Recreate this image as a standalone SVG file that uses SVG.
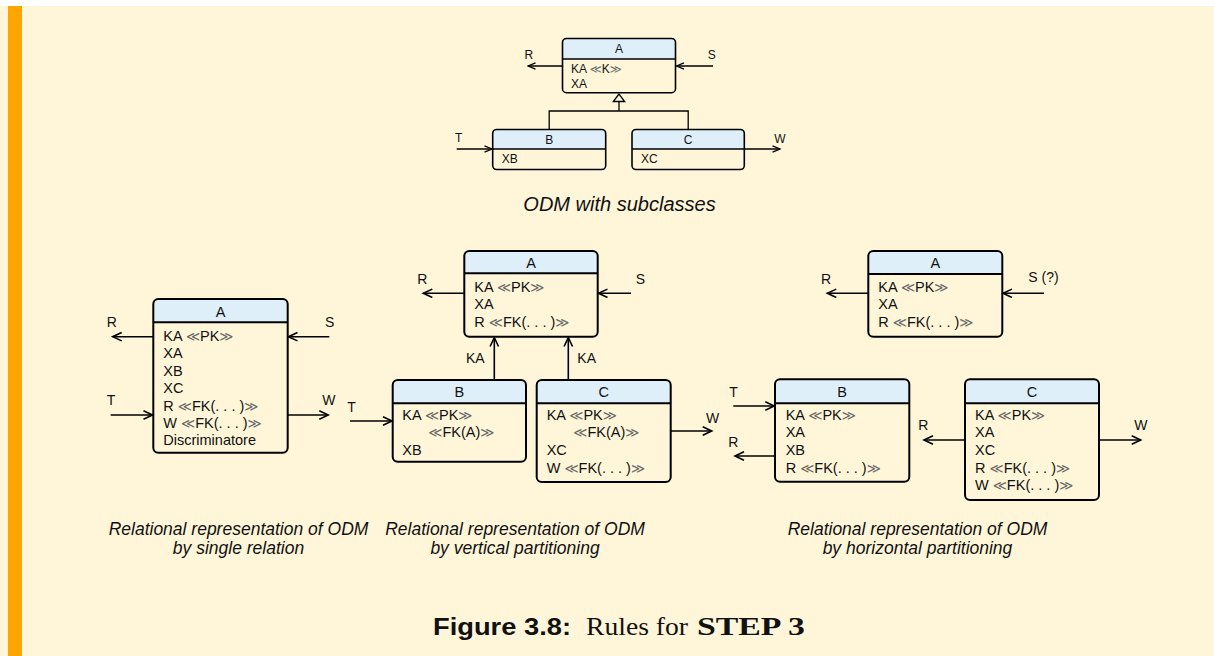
<svg xmlns="http://www.w3.org/2000/svg" width="1214" height="656" viewBox="0 0 1214 656">
<defs>
<style>
.t{font-family:"Liberation Sans",Arial,sans-serif;font-size:14.5px;fill:#111}
.ts{font-family:"Liberation Sans",Arial,sans-serif;font-size:12px;fill:#111}
.lb{font-family:"Liberation Sans",Arial,sans-serif;font-size:14px;fill:#111}
.c{text-anchor:middle}
.ll{font-family:"DejaVu Sans",sans-serif;fill:#666}
.box{fill:none;stroke:#000;stroke-width:2}
.boxs{fill:none;stroke:#000;stroke-width:1.6}
.hdr{fill:#DFEFFA}
.div{stroke:#000;stroke-width:2}
.divs{stroke:#000;stroke-width:1.5}
.ar{fill:none;stroke:#000;stroke-width:1.6;marker-end:url(#ah)}
.ars{fill:none;stroke:#000;stroke-width:1.3;marker-end:url(#ahs)}
.ln{fill:none;stroke:#000;stroke-width:1.3}
.cap{font-family:"Liberation Sans",Arial,sans-serif;font-style:italic;font-size:17.5px;fill:#111;text-anchor:middle}
.capl{font-family:"Liberation Sans",Arial,sans-serif;font-style:italic;font-size:20px;fill:#111;text-anchor:middle}
</style>
<marker id="ah" markerUnits="userSpaceOnUse" markerWidth="12" markerHeight="12" viewBox="0 0 12 12" refX="10" refY="5" orient="auto">
<path d="M1,0.8 L10,5 L1,9.2" fill="none" stroke="#000" stroke-width="1.6"/>
</marker>
<marker id="ahs" markerUnits="userSpaceOnUse" markerWidth="10" markerHeight="10" viewBox="0 0 10 10" refX="8.5" refY="4" orient="auto">
<path d="M1,0.8 L8.5,4 L1,7.2" fill="none" stroke="#000" stroke-width="1.3"/>
</marker>
</defs>
<rect x="0" y="0" width="1214" height="656" fill="#fff"/>
<rect x="0" y="6" width="1214" height="650" fill="#FFF6D9"/>
<rect x="8" y="6" width="14" height="650" fill="#FFA500"/>

<g id="connectors">
<!-- top -->
<line class="ars" x1="562.5" y1="66" x2="528" y2="66"/>
<line class="ars" x1="713" y1="66" x2="676.5" y2="66"/>
<line class="ars" x1="456.7" y1="149" x2="492" y2="149"/>
<line class="ars" x1="744.3" y1="149" x2="780" y2="149"/>
<polygon points="619,94 613.3,101.5 624.7,101.5" fill="#FFF6D9" stroke="#000" stroke-width="1.3"/>
<polyline class="ln" points="619,101.5 619,111"/>
<polyline class="ln" points="549.2,129.5 549.2,111 688.2,111 688.2,129.5"/>
<!-- left -->
<line class="ar" x1="153.3" y1="336.7" x2="112.7" y2="336.7"/>
<line class="ar" x1="329.3" y1="336.7" x2="288.5" y2="336.7"/>
<line class="ar" x1="110.7" y1="415" x2="152.5" y2="415"/>
<line class="ar" x1="287.7" y1="415" x2="328.3" y2="415"/>
<!-- middle -->
<line class="ar" x1="464.3" y1="293.3" x2="423.3" y2="293.3"/>
<line class="ar" x1="631" y1="293.3" x2="598.5" y2="293.3"/>
<line class="ar" x1="494.3" y1="380" x2="494.3" y2="337.5"/>
<line class="ar" x1="568.3" y1="380" x2="568.3" y2="337.5"/>
<line class="ar" x1="350" y1="421" x2="392" y2="421"/>
<line class="ar" x1="670.7" y1="431" x2="711.7" y2="431"/>
<!-- right -->
<line class="ar" x1="868.3" y1="293.3" x2="827.3" y2="293.3"/>
<line class="ar" x1="1044" y1="293.3" x2="1003" y2="293.3"/>
<line class="ar" x1="733.3" y1="406" x2="774.3" y2="406"/>
<line class="ar" x1="775" y1="456" x2="735" y2="456"/>
<line class="ar" x1="965" y1="440" x2="924" y2="440"/>
<line class="ar" x1="1099" y1="440" x2="1140.7" y2="440"/>
</g>

<g id="connector-labels">
<text class="ts" x="524.5" y="58.5">R</text>
<text class="ts" x="707.7" y="58.5">S</text>
<text class="ts" x="455" y="141.5">T</text>
<text class="ts" x="774.3" y="142.5">W</text>
<text class="lb" x="106.7" y="327">R</text>
<text class="lb" x="325" y="327">S</text>
<text class="lb" x="106.7" y="405">T</text>
<text class="lb" x="322.3" y="405">W</text>
<text class="lb" x="417.3" y="284.3">R</text>
<text class="lb" x="635.7" y="284.3">S</text>
<text class="lb" x="466" y="362.7">KA</text>
<text class="lb" x="577.3" y="362.7">KA</text>
<text class="lb" x="347.3" y="411.7">T</text>
<text class="lb" x="706" y="422.7">W</text>
<text class="lb" x="821" y="284.3">R</text>
<text class="lb" x="1028.3" y="281.7">S (?)</text>
<text class="lb" x="729.3" y="396.7">T</text>
<text class="lb" x="728.3" y="446.7">R</text>
<text class="lb" x="918.3" y="430">R</text>
<text class="lb" x="1134.3" y="430">W</text>
</g>

<!-- top diagram nodes -->
<g id="top-A">
<path class="hdr" d="M562.5,59 V42.5 Q562.5,38.5 566.5,38.5 H671.5 Q675.5,38.5 675.5,42.5 V59 Z"/>
<rect class="boxs" x="562.5" y="38.5" width="113" height="54.2" rx="4"/>
<line class="divs" x1="562.5" y1="59" x2="675.5" y2="59"/>
<text class="ts c" x="619" y="52.5">A</text>
<text class="ts" x="571" y="72.5">KA <tspan class="ll" font-size="11.5">≪</tspan>K<tspan class="ll" font-size="11.5">≫</tspan></text>
<text class="ts" x="571" y="87.5">XA</text>
</g>
<g id="top-B">
<path class="hdr" d="M492.7,149 V133.5 Q492.7,129.5 496.7,129.5 H601.7 Q605.7,129.5 605.7,133.5 V149 Z"/>
<rect class="boxs" x="492.7" y="129.5" width="113" height="40" rx="4"/>
<line class="divs" x1="492.7" y1="149" x2="605.7" y2="149"/>
<text class="ts c" x="549.2" y="143.5">B</text>
<text class="ts" x="501.7" y="163">XB</text>
</g>
<g id="top-C">
<path class="hdr" d="M632,149 V133.5 Q632,129.5 636,129.5 H740.3 Q744.3,129.5 744.3,133.5 V149 Z"/>
<rect class="boxs" x="632" y="129.5" width="112.3" height="40" rx="4"/>
<line class="divs" x1="632" y1="149" x2="744.3" y2="149"/>
<text class="ts c" x="688.2" y="143.5">C</text>
<text class="ts" x="641" y="163">XC</text>
</g>

<!-- left: single relation -->
<g id="single-A">
<path class="hdr" d="M153.3,322.3 V304 Q153.3,299 158.3,299 H282.7 Q287.7,299 287.7,304 V322.3 Z"/>
<rect class="box" x="153.3" y="299" width="134.4" height="153.7" rx="5"/>
<line class="div" x1="153.3" y1="322.3" x2="287.7" y2="322.3"/>
<text class="t c" x="220.5" y="316.7">A</text>
<text class="t" x="163.3" y="341">KA <tspan class="ll" font-size="13.5">≪</tspan>PK<tspan class="ll" font-size="13.5">≫</tspan></text>
<text class="t" x="163.3" y="358.4">XA</text>
<text class="t" x="163.3" y="375.8">XB</text>
<text class="t" x="163.3" y="393.2">XC</text>
<text class="t" x="163.3" y="410.6">R <tspan class="ll" font-size="13.5">≪</tspan>FK(. . . )<tspan class="ll" font-size="13.5">≫</tspan></text>
<text class="t" x="163.3" y="428">W <tspan class="ll" font-size="13.5">≪</tspan>FK(. . . )<tspan class="ll" font-size="13.5">≫</tspan></text>
<text class="t" x="163.3" y="445.4">Discriminatore</text>
</g>

<!-- middle: vertical partitioning -->
<g id="vert-A">
<path class="hdr" d="M464.3,273.3 V256 Q464.3,251 469.3,251 H592.7 Q597.7,251 597.7,256 V273.3 Z"/>
<rect class="box" x="464.3" y="251" width="133.4" height="85.7" rx="5"/>
<line class="div" x1="464.3" y1="273.3" x2="597.7" y2="273.3"/>
<text class="t c" x="531" y="267.7">A</text>
<text class="t" x="474.3" y="291.7">KA <tspan class="ll" font-size="13.5">≪</tspan>PK<tspan class="ll" font-size="13.5">≫</tspan></text>
<text class="t" x="474.3" y="309">XA</text>
<text class="t" x="474.3" y="326.5">R <tspan class="ll" font-size="13.5">≪</tspan>FK(. . . )<tspan class="ll" font-size="13.5">≫</tspan></text>
</g>
<g id="vert-B">
<path class="hdr" d="M392.7,403.3 V385 Q392.7,380 397.7,380 H521 Q526,380 526,385 V403.3 Z"/>
<rect class="box" x="392.7" y="380" width="133.3" height="81.7" rx="5"/>
<line class="div" x1="392.7" y1="403.3" x2="526" y2="403.3"/>
<text class="t c" x="459.3" y="397.3">B</text>
<text class="t" x="402.3" y="420">KA <tspan class="ll" font-size="13.5">≪</tspan>PK<tspan class="ll" font-size="13.5">≫</tspan></text>
<text class="t" x="428.3" y="437.3"><tspan class="ll" font-size="13.5">≪</tspan>FK(A)<tspan class="ll" font-size="13.5">≫</tspan></text>
<text class="t" x="402.3" y="455">XB</text>
</g>
<g id="vert-C">
<path class="hdr" d="M536.7,403.3 V385 Q536.7,380 541.7,380 H665.7 Q670.7,380 670.7,385 V403.3 Z"/>
<rect class="box" x="536.7" y="380" width="134" height="102" rx="5"/>
<line class="div" x1="536.7" y1="403.3" x2="670.7" y2="403.3"/>
<text class="t c" x="603.7" y="397.3">C</text>
<text class="t" x="546.7" y="420">KA <tspan class="ll" font-size="13.5">≪</tspan>PK<tspan class="ll" font-size="13.5">≫</tspan></text>
<text class="t" x="573.3" y="437.3"><tspan class="ll" font-size="13.5">≪</tspan>FK(A)<tspan class="ll" font-size="13.5">≫</tspan></text>
<text class="t" x="546.7" y="455">XC</text>
<text class="t" x="546.7" y="472.5">W <tspan class="ll" font-size="13.5">≪</tspan>FK(. . . )<tspan class="ll" font-size="13.5">≫</tspan></text>
</g>

<!-- right: horizontal partitioning -->
<g id="horiz-A">
<path class="hdr" d="M868.3,274 V256 Q868.3,251 873.3,251 H997.3 Q1002.3,251 1002.3,256 V274 Z"/>
<rect class="box" x="868.3" y="251" width="134" height="85.7" rx="5"/>
<line class="div" x1="868.3" y1="274" x2="1002.3" y2="274"/>
<text class="t c" x="935.3" y="267.7">A</text>
<text class="t" x="878.3" y="291.7">KA <tspan class="ll" font-size="13.5">≪</tspan>PK<tspan class="ll" font-size="13.5">≫</tspan></text>
<text class="t" x="878.3" y="309">XA</text>
<text class="t" x="878.3" y="326.5">R <tspan class="ll" font-size="13.5">≪</tspan>FK(. . . )<tspan class="ll" font-size="13.5">≫</tspan></text>
</g>
<g id="horiz-B">
<path class="hdr" d="M775,403.3 V384.3 Q775,379.3 780,379.3 H904.3 Q909.3,379.3 909.3,384.3 V403.3 Z"/>
<rect class="box" x="775" y="379.3" width="134.3" height="102.4" rx="5"/>
<line class="div" x1="775" y1="403.3" x2="909.3" y2="403.3"/>
<text class="t c" x="842.2" y="397.3">B</text>
<text class="t" x="785.7" y="420">KA <tspan class="ll" font-size="13.5">≪</tspan>PK<tspan class="ll" font-size="13.5">≫</tspan></text>
<text class="t" x="785.7" y="437.3">XA</text>
<text class="t" x="785.7" y="455">XB</text>
<text class="t" x="785.7" y="472.5">R <tspan class="ll" font-size="13.5">≪</tspan>FK(. . . )<tspan class="ll" font-size="13.5">≫</tspan></text>
</g>
<g id="horiz-C">
<path class="hdr" d="M965,403.3 V384.3 Q965,379.3 970,379.3 H1094 Q1099,379.3 1099,384.3 V403.3 Z"/>
<rect class="box" x="965" y="379.3" width="134" height="120.7" rx="5"/>
<line class="div" x1="965" y1="403.3" x2="1099" y2="403.3"/>
<text class="t c" x="1032" y="397.3">C</text>
<text class="t" x="975" y="420">KA <tspan class="ll" font-size="13.5">≪</tspan>PK<tspan class="ll" font-size="13.5">≫</tspan></text>
<text class="t" x="975" y="437.3">XA</text>
<text class="t" x="975" y="455">XC</text>
<text class="t" x="975" y="472.5">R <tspan class="ll" font-size="13.5">≪</tspan>FK(. . . )<tspan class="ll" font-size="13.5">≫</tspan></text>
<text class="t" x="975" y="490">W <tspan class="ll" font-size="13.5">≪</tspan>FK(. . . )<tspan class="ll" font-size="13.5">≫</tspan></text>
</g>

<g id="captions">
<text class="capl" x="619.5" y="211">ODM with subclasses</text>
<text class="cap" x="238.5" y="535">Relational representation of ODM</text>
<text class="cap" x="238.5" y="553.5">by single relation</text>
<text class="cap" x="515" y="535">Relational representation of ODM</text>
<text class="cap" x="515" y="553.5">by vertical partitioning</text>
<text class="cap" x="917.5" y="535">Relational representation of ODM</text>
<text class="cap" x="917.5" y="553.5">by horizontal partitioning</text>
<text x="433" y="635" font-family="Liberation Sans, Arial, sans-serif" font-weight="bold" font-size="23" fill="#111" textLength="138" lengthAdjust="spacingAndGlyphs">Figure 3.8:</text>
<text x="586" y="635" font-family="Liberation Serif, serif" font-size="24.5" fill="#111" textLength="102" lengthAdjust="spacingAndGlyphs">Rules for</text>
<text x="697" y="635" font-family="Liberation Serif, serif" font-weight="bold" font-size="24.5" fill="#111" textLength="108" lengthAdjust="spacingAndGlyphs">STEP 3</text>
</g>
</svg>
